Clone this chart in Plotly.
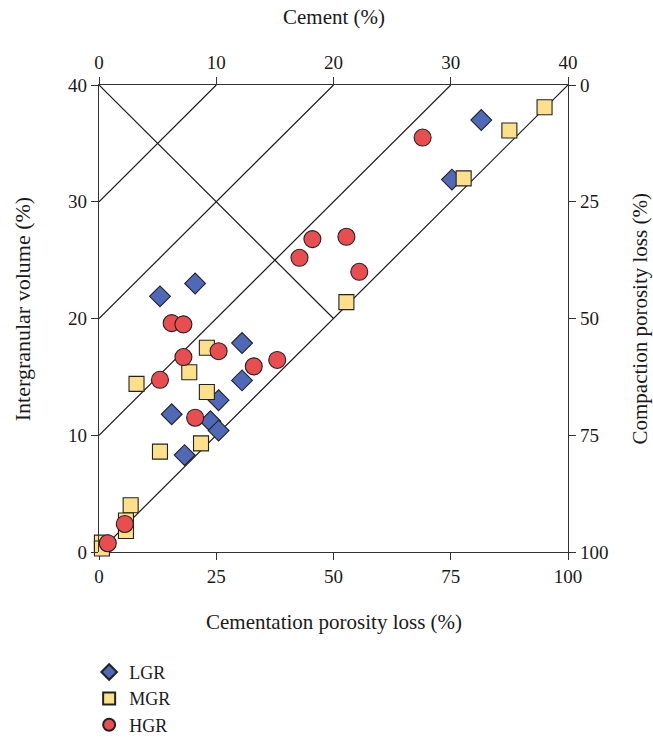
import plotly.graph_objects as go

# Cement (%) and intergranular volume (%) per sample group
lgr_cement = [5.2, 8.2, 12.2, 12.2, 10.2, 6.2, 9.5, 10.2, 7.3, 30.1, 32.6]
lgr_igv = [21.9, 23.0, 17.9, 14.7, 13.0, 11.8, 11.2, 10.4, 8.3, 31.9, 37.0]

mgr_cement = [21.1, 31.1, 35.0, 38.0, 9.2, 7.7, 3.2, 9.2, 5.2, 8.7, 2.7, 2.3, 2.3, 0.25, 0.25]
mgr_igv = [21.4, 32.0, 36.1, 38.1, 17.5, 15.4, 14.4, 13.7, 8.6, 9.3, 4.0, 2.7, 1.8, 0.8, 0.3]

hgr_cement = [6.2, 7.2, 18.2, 17.1, 21.1, 22.2, 27.6, 10.2, 7.2, 13.2, 15.2, 5.2, 8.2, 2.2, 0.75]
hgr_igv = [19.6, 19.5, 26.8, 25.2, 27.0, 24.0, 35.5, 17.2, 16.7, 15.9, 16.45, 14.75, 11.5, 2.4, 0.75]

# Axis ticks
cement_ticks = [0, 10, 20, 30, 40]
igv_ticks = [0, 10, 20, 30, 40]
loss_ticks = [0, 25, 50, 75, 100]

# Guide lines: constant intergranular porosity (IGV - cement) and the
# equal-loss line from the original porosity down to the diagonal
porosity_levels = [0, 10, 20, 30]
original_porosity = 40
equal_loss_cement = [0, 20]

FONT = "Liberation Serif"
INK = "#1a1a1a"

fig = go.Figure()

for lvl in porosity_levels:
    fig.add_trace(go.Scatter(
        x=[0, original_porosity - lvl], y=[lvl, original_porosity],
        xaxis="x2", yaxis="y", mode="lines",
        line=dict(color=INK, width=1.2),
        showlegend=False, hoverinfo="skip"))

fig.add_trace(go.Scatter(
    x=equal_loss_cement, y=[original_porosity - c for c in equal_loss_cement],
    xaxis="x2", yaxis="y", mode="lines",
    line=dict(color=INK, width=1.2),
    showlegend=False, hoverinfo="skip"))

marker_line = dict(color="#222222", width=1.1)

fig.add_trace(go.Scatter(
    x=lgr_cement, y=lgr_igv, xaxis="x2", yaxis="y", mode="markers", name="LGR",
    cliponaxis=False,
    marker=dict(symbol="diamond", size=16, color="#5068B8", line=marker_line)))
fig.add_trace(go.Scatter(
    x=mgr_cement, y=mgr_igv, xaxis="x2", yaxis="y", mode="markers", name="MGR",
    cliponaxis=False,
    marker=dict(symbol="square", size=15, color="#FFE08A", line=marker_line)))
fig.add_trace(go.Scatter(
    x=hgr_cement, y=hgr_igv, xaxis="x2", yaxis="y", mode="markers", name="HGR",
    cliponaxis=False,
    marker=dict(symbol="circle", size=17, color="#E94D4F", line=marker_line)))

# Empty trace that ties the porosity-loss axes (bottom/right) to the plot
fig.add_trace(go.Scatter(x=[None], y=[None], xaxis="x", yaxis="y2",
                         mode="markers", showlegend=False, hoverinfo="skip"))

axis_common = dict(
    showline=True, linecolor="#333333", linewidth=1.3,
    ticks="outside", ticklen=7, tickwidth=1.2, tickcolor="#333333",
    showgrid=False, zeroline=False,
    tickfont=dict(family=FONT, size=19, color=INK),
)

# Axis titles placed as paper-anchored annotations
titles = [
    dict(text="Cementation porosity loss (%)", x=0.501, y=-0.150, textangle=0, size=21),
    dict(text="Cement (%)", x=0.501, y=1.146, textangle=0, size=21),
    dict(text="Intergranular volume (%)", x=-0.164, y=0.52, textangle=-90, size=22),
    dict(text="Compaction porosity loss (%)", x=1.1535, y=0.50, textangle=-90, size=21),
]
annotations = [
    dict(xref="paper", yref="paper", xanchor="center", yanchor="middle",
         showarrow=False, text=t["text"], x=t["x"], y=t["y"],
         textangle=t["textangle"],
         font=dict(family=FONT, size=t["size"], color=INK))
    for t in titles
]

fig.update_layout(
    width=653, height=742,
    margin=dict(l=99, r=85, t=85, b=190, autoexpand=False),
    paper_bgcolor="white", plot_bgcolor="white",
    font=dict(family=FONT, color=INK),
    xaxis=dict(range=[0, 100], tickvals=loss_ticks, anchor="y", side="bottom",
               **axis_common),
    xaxis2=dict(range=[0, 40], tickvals=cement_ticks, overlaying="x", anchor="y",
                side="top", **axis_common),
    yaxis=dict(range=[0, 40], tickvals=igv_ticks, anchor="x", side="left",
               **axis_common),
    yaxis2=dict(range=[100, 0], tickvals=loss_ticks, overlaying="y", anchor="x",
                side="right", **axis_common),
    annotations=annotations,
    legend=dict(x=-0.021, y=-0.218, xanchor="left", yanchor="top",
                itemsizing="constant", bgcolor="rgba(0,0,0,0)",
                font=dict(family=FONT, size=18, color=INK)),
    showlegend=True,
)

fig.write_html("out.html")
